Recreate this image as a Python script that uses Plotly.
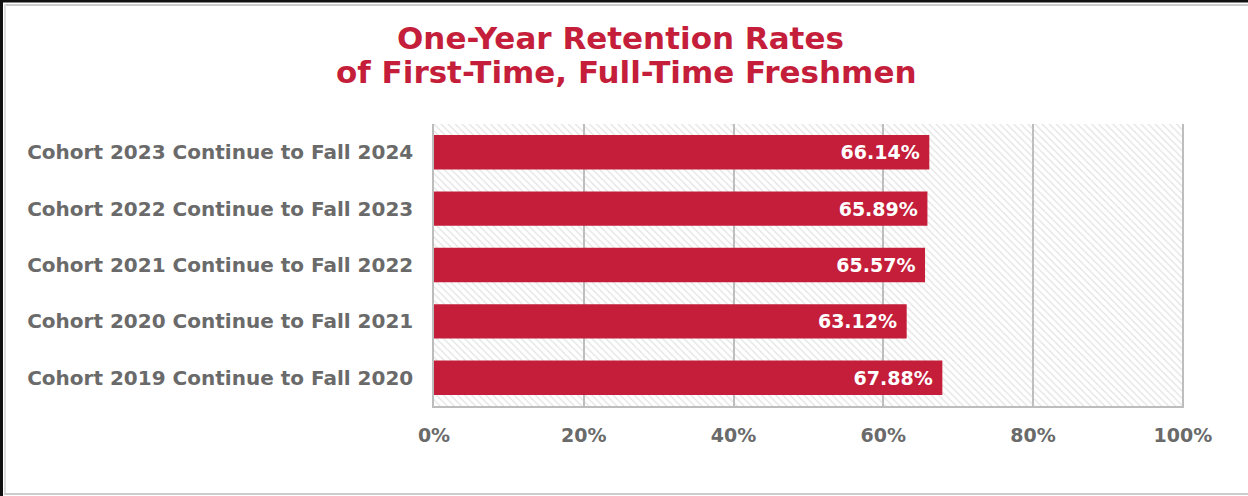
import plotly.graph_objects as go

# data (top to bottom as shown)
cohorts = [
    "Cohort 2023 Continue to Fall 2024",
    "Cohort 2022 Continue to Fall 2023",
    "Cohort 2021 Continue to Fall 2022",
    "Cohort 2020 Continue to Fall 2021",
    "Cohort 2019 Continue to Fall 2020",
]
rates = [66.14, 65.89, 65.57, 63.12, 67.88]
full_scale = [100, 100, 100, 100, 100]
tick_vals = [0, 20, 40, 60, 80, 100]
tick_text = ["0%", "20%", "40%", "60%", "80%", "100%"]

RED = "#C41E3A"
GRAY_TXT = "#6a6a6a"
FONT = "DejaVu Sans"

W, H = 1248, 496
L, R, T, B = 434, 64, 124, 90

def px_x(p):
    return (p - L) / (W - L - R)

def px_y(p):
    return (H - B - p) / (H - T - B)

fig = go.Figure()

# hatched background behind the bars
fig.add_trace(go.Bar(
    x=full_scale, y=cohorts, orientation="h", width=1,
    marker=dict(color="rgba(0,0,0,0)", line_width=0,
                pattern=dict(shape="\\", fgcolor="#c6c6c6", size=5,
                             solidity=0.25, fillmode="overlay")),
    hoverinfo="skip", showlegend=False,
))

fig.add_trace(go.Bar(
    x=rates, y=cohorts, orientation="h", width=0.61,
    marker=dict(color=RED, line_width=0),
    text=[f"{v:.2f}% " for v in rates],
    textposition="inside", insidetextanchor="end",
    textfont=dict(family=FONT, size=19, color="white", weight=700),
    showlegend=False,
))

fig.update_layout(
    width=W, height=H,
    margin=dict(l=L, r=R, t=T, b=B),
    paper_bgcolor="white", plot_bgcolor="white",
    barmode="overlay",
    font=dict(family=FONT, color=GRAY_TXT),
    xaxis=dict(range=[0, 100.15], tickvals=tick_vals, ticktext=tick_text,
               showgrid=True, gridcolor="#bdbdbd", gridwidth=1.5,
               zeroline=False, showline=True, linecolor="#bdbdbd", linewidth=1.5,
               ticks="", ticklabelstandoff=11,
               tickfont=dict(family=FONT, size=19, color=GRAY_TXT, weight=700),
               layer="below traces"),
    yaxis=dict(autorange="reversed", showgrid=False, zeroline=False,
               showline=True, linecolor="#bdbdbd", linewidth=1.5,
               ticks="", ticklabelstandoff=15,
               tickfont=dict(family=FONT, size=20, color=GRAY_TXT, weight=700)),
)

# title lines
fig.add_annotation(text="One-Year Retention Rates", xref="paper", yref="paper",
                   x=px_x(620), y=px_y(38), xanchor="center", yanchor="middle",
                   showarrow=False,
                   font=dict(family=FONT, size=31, color=RED, weight=700))
fig.add_annotation(text="of First-Time, Full-Time Freshmen", xref="paper", yref="paper",
                   x=px_x(626), y=px_y(72), xanchor="center", yanchor="middle",
                   showarrow=False,
                   font=dict(family=FONT, size=31, color=RED, weight=700))

# frame around the picture
fig.add_shape(type="rect", xref="paper", yref="paper", layer="above",
              x0=px_x(0), x1=px_x(W), y0=px_y(0), y1=px_y(2.5),
              fillcolor="#111111", line_width=0)
fig.add_shape(type="rect", xref="paper", yref="paper", layer="above",
              x0=px_x(0), x1=px_x(3), y0=px_y(0), y1=px_y(H),
              fillcolor="#111111", line_width=0)
fig.add_shape(type="line", xref="paper", yref="paper",
              x0=px_x(4), x1=px_x(W), y0=px_y(5), y1=px_y(5),
              line=dict(color="#cccccc", width=2))
fig.add_shape(type="line", xref="paper", yref="paper",
              x0=px_x(5), x1=px_x(5), y0=px_y(4), y1=px_y(494),
              line=dict(color="#dddddd", width=2))
fig.add_shape(type="line", xref="paper", yref="paper",
              x0=px_x(4), x1=px_x(W), y0=px_y(494), y1=px_y(494),
              line=dict(color="#cccccc", width=2))

# page body has a default margin; drop it so the figure sits at the corner
fig.write_html("out.html", config={"displayModeBar": False},
               post_script="document.body.style.margin='0';")
